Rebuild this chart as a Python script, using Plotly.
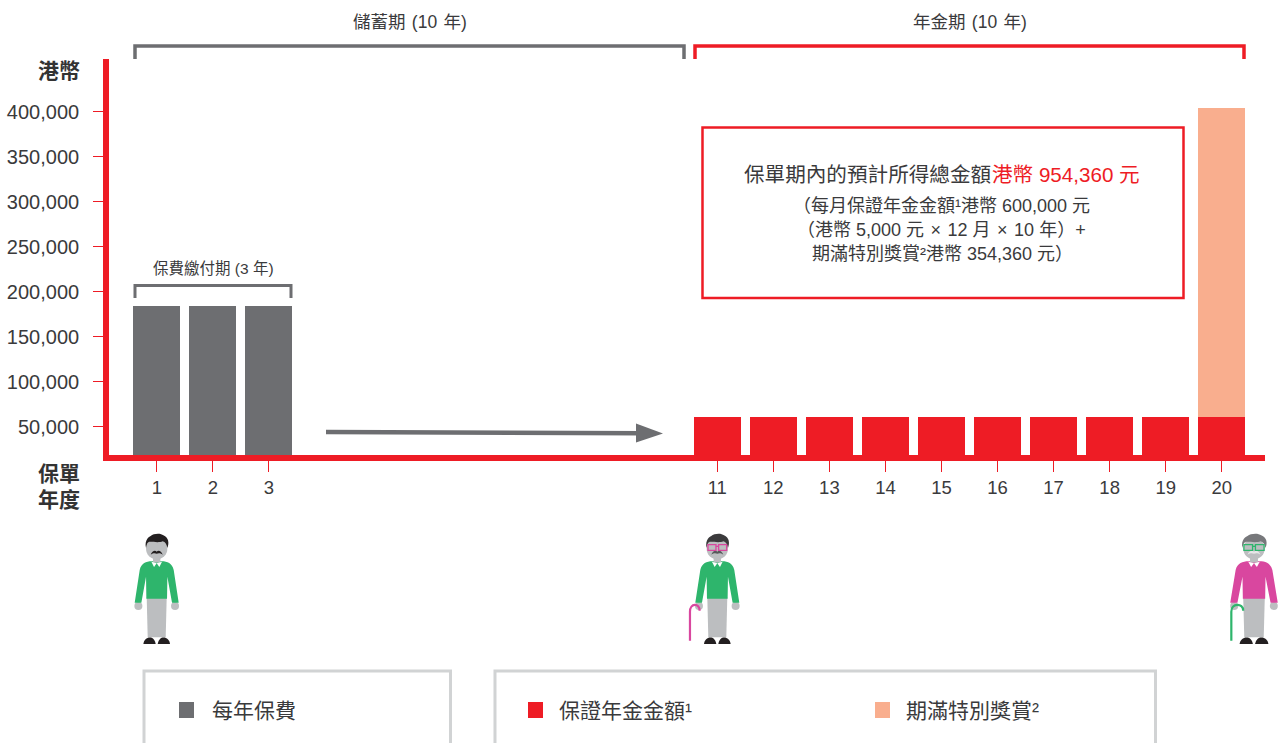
import plotly.graph_objects as go

W, H = 1283, 743
FONT = '"Liberation Sans", "Noto Sans CJK TC", sans-serif'
RED, GREY, PEACH = "#ee1c25", "#6d6e71", "#f9ae8e"
GREEN, PINK = "#2eb56c", "#d9479f"
BODY, INK, TEXT = "#bcbec0", "#231f20", "#3a3a3c"
BOX = "#d1d3d4"

years_premium = [1, 2, 3]
premium = [184000, 184000, 184000]
years_annuity = [11, 12, 13, 14, 15, 16, 17, 18, 19, 20]
annuity = [61000] * 10
years_bonus = [20]
bonus = [343000]
x_ticks = [1, 2, 3, 11, 12, 13, 14, 15, 16, 17, 18, 19, 20]
y_ticks = [50000, 100000, 150000, 200000, 250000, 300000, 350000, 400000]


def px(x):
    return x / W


def py(y):
    return 1 - y / H


fig = go.Figure()
fig.add_bar(x=years_premium, y=premium, marker_color=GREY, marker_line_width=0, width=0.84, name="每年保費")
fig.add_bar(x=years_annuity, y=annuity, marker_color=RED, marker_line_width=0, width=0.84, name="保證年金金額")
fig.add_bar(x=years_bonus, y=bonus, marker_color=PEACH, marker_line_width=0, width=0.84, name="期滿特別獎賞")

shapes = []


def path(points, close=False, fill=None, line=None, lw=0):
    d = "M" + " L".join(f"{px(a):.5f},{py(b):.5f}" for a, b in points)
    if close:
        d += " Z"
    s = dict(type="path", xref="paper", yref="paper", path=d, layer="above")
    s["fillcolor"] = fill if fill else "rgba(0,0,0,0)"
    s["line"] = dict(color=line, width=lw) if line else dict(width=0)
    shapes.append(s)


def rect(x0, y0, x1, y1, fill=None, line=None, lw=0):
    path([(x0, y0), (x1, y0), (x1, y1), (x0, y1)], True, fill, line, lw)


def curve(cmds, fill=None, line=None, lw=0):
    """cmds is a list of ('M'|'L'|'C'|'Z', points...) in pixel space"""
    parts = []
    for c in cmds:
        parts.append(c[0] + " ".join(f"{px(a):.5f},{py(b):.5f}" for a, b in c[1:]))
    s = dict(type="path", xref="paper", yref="paper", path=" ".join(parts), layer="above")
    s["fillcolor"] = fill if fill else "rgba(0,0,0,0)"
    s["line"] = dict(color=line, width=lw) if line else dict(width=0)
    shapes.append(s)


def circle(cx, cy, r, fill):
    shapes.append(dict(type="circle", xref="paper", yref="paper", layer="above",
                       x0=px(cx - r), x1=px(cx + r), y0=py(cy + r), y1=py(cy - r),
                       fillcolor=fill, line=dict(width=0)))


# brackets
path([(135, 59), (135, 46), (684, 46), (684, 59)], line=GREY, lw=3.5)
path([(695, 59), (695, 46), (1244, 46), (1244, 59)], line=RED, lw=3.5)
path([(135, 298), (135, 285.5), (291, 285.5), (291, 298)], line=GREY, lw=3)

# arrow
path([(326, 432), (642, 433.2)], line=GREY, lw=4.5)
path([(636, 423.5), (663, 433.5), (636, 442.5)], True, fill=GREY)

# text box
rect(702.5, 127.5, 1183.5, 298, line=RED, lw=2.5)

# legend frames
path([(144, 743), (144, 671), (450.5, 671), (450.5, 743)], line=BOX, lw=3)
path([(495, 743), (495, 671), (1155.5, 671), (1155.5, 743)], line=BOX, lw=3)
rect(179, 702, 194, 718, fill=GREY)
rect(528, 702, 543, 718, fill=RED)
rect(875, 702, 890, 718, fill=PEACH)


def person(cx, shirt, hair, tache, glasses=None, cane=None, sx=1.0):
    def P(a, b):
        return (cx + sx * a / 3, 520 + b / 3)

    # trousers
    path([P(-30, 232), P(30, 232), P(27, 352), P(-27, 352)], True, fill=BODY)
    # shoes
    for sgn in (-1, 1):
        curve([("M", P(sgn * 40, 372)), ("C", P(sgn * 38, 350), P(sgn * 8, 342), P(sgn * 3, 372)), ("Z",)], fill=INK)
    # hands
    circle(*P(-55, 258), 12 / 3, BODY)
    circle(*P(55, 258), 12 / 3, BODY)
    # shirt
    curve([("M", P(-15, 124)), ("L", P(15, 124)),
           ("C", P(32, 124), P(46, 130), P(51, 150)),
           ("L", P(66, 248)), ("L", P(46, 248)), ("L", P(32, 170)), ("L", P(31, 236)),
           ("L", P(-31, 236)), ("L", P(-32, 170)), ("L", P(-46, 248)), ("L", P(-66, 248)),
           ("L", P(-51, 150)), ("C", P(-46, 130), P(-32, 124), P(-15, 124)), ("Z",)], fill=shirt)
    # neck and collar
    rect(*P(-11, 105), *P(11, 128), fill=BODY)
    path([P(-16, 125), P(0, 130), P(-8, 141)], True, fill="#ffffff")
    path([P(16, 125), P(0, 130), P(8, 141)], True, fill="#ffffff")
    # head
    circle(*P(0, 86), 32 / 3, BODY)
    # hair
    curve([("M", P(-32, 84)), ("C", P(-38, 58), P(-20, 48), P(-18, 48)),
           ("C", P(-10, 40), P(12, 38), P(20, 46)),
           ("C", P(36, 52), P(38, 70), P(32, 84)),
           ("C", P(30, 74), P(26, 66), P(18, 64)),
           ("C", P(6, 70), P(-16, 64), P(-24, 66)),
           ("C", P(-30, 70), P(-30, 76), P(-32, 84)), ("Z",)], fill=hair)
    # moustache
    curve([("M", P(-18, 104)), ("C", P(-14, 92), P(-4, 90), P(0, 95)),
           ("C", P(4, 90), P(14, 92), P(18, 104)),
           ("C", P(10, 98), P(4, 100), P(0, 101)),
           ("C", P(-4, 100), P(-10, 98), P(-18, 104)), ("Z",)], fill=tache)
    if glasses:
        rect(*P(-28, 74), *P(-4, 91), line=glasses, lw=1.3)
        rect(*P(4, 74), *P(28, 91), line=glasses, lw=1.3)
        path([P(-4, 79), P(4, 79)], line=glasses, lw=1.3)
    if cane:
        x0, x1, x2 = cane
        curve([("M", P(x0, 362)), ("L", P(x0, 275)),
               ("C", P(x0, 248), P(x2, 248), P(x2, 272))], line=glasses, lw=2.2)


person(156.7, GREEN, INK, INK)
person(717.3, GREEN, "#3b3a3c", "#58595b", glasses=PINK, cane=(-82, -68, -53))
person(1254, PINK, "#77787b", "#e6e7e8", glasses=GREEN, cane=(-63, -49, -30), sx=1.08)

ann = []


def text(x, y, s, size, anchor="center", color=TEXT, weight="normal"):
    ann.append(dict(text=s, x=px(x), y=py(y), xref="paper", yref="paper", showarrow=False,
                    xanchor=anchor, yanchor="middle", align=anchor,
                    font=dict(family=FONT, size=size, color=color, weight=weight)))


GAP = "\u00a0\u200a"
text(410, 22, f"儲蓄期{GAP}(10{GAP}年)", 17.5)
text(970, 22, f"年金期{GAP}(10{GAP}年)", 17.5)
text(213, 268, "保費繳付期 (3 年)", 15.5)
text(82, 70, "港幣", 21, "right", "#333333", "bold")
text(82, 473, "保單", 21, "right", "#333333", "bold")
text(82, 499, "年度", 21, "right", "#333333", "bold")
text(993, 174, "保單期內的預計所得總金額", 20.6, "right")
text(989.5, 174, "港幣 954,360 元", 20.6, "left", RED)
text(942, 205.5, "（每月保證年金金額¹港幣 600,000 元", 18)
text(942, 230, f"（港幣 5,000 元{GAP}×{GAP}12 月{GAP}×{GAP}10 年）+", 18)
text(942.5, 254, "期滿特別獎賞²港幣 354,360 元）", 18)
text(210, 710.5, "每年保費", 21, "left")
text(557, 710.5, "保證年金金額¹", 21, "left")
text(904, 710.5, "期滿特別獎賞²", 21, "left")

# plot rectangle (pixels) and the axis ranges that put the ticks on the reference positions
L, R, T, B = 108.7, 1265, 59, 455
x_at = lambda p: (p - 156.8) / 56.05 + 1
y_at = lambda p: (471.5 - p) / 0.0009

fig.update_layout(
    width=W, height=H, autosize=False,
    margin=dict(l=0, r=0, t=0, b=0, pad=0, autoexpand=False),
    paper_bgcolor="#ffffff", plot_bgcolor="#ffffff",
    barmode="stack", showlegend=False,
    font=dict(family=FONT, color=TEXT),
    shapes=shapes, annotations=ann,
    xaxis=dict(domain=[px(L), px(R)], range=[x_at(L), x_at(R)], tickmode="array", tickvals=x_ticks,
               ticktext=[str(v) for v in x_ticks], showgrid=False, zeroline=False, showline=True,
               linecolor=RED, linewidth=6, ticks="outside", ticklen=11, tickwidth=1, tickcolor=RED,
               tickfont=dict(family=FONT, size=18.5, color=TEXT), tickangle=0, automargin=False),
    yaxis=dict(domain=[py(B), py(T)], range=[y_at(B), y_at(T)], tickmode="array", tickvals=y_ticks,
               ticktext=[f"{v:,}" + "\u00a0\u2009" for v in y_ticks], showgrid=False, zeroline=False, showline=True,
               linecolor=RED, linewidth=6, ticks="outside", ticklen=10, tickwidth=1, tickcolor=RED,
               tickfont=dict(family=FONT, size=20, color=TEXT), automargin=False),
)

fig.write_html("out.html", config={"displayModeBar": False},
               post_script="document.body.style.margin='0';document.documentElement.style.overflow='hidden';")
